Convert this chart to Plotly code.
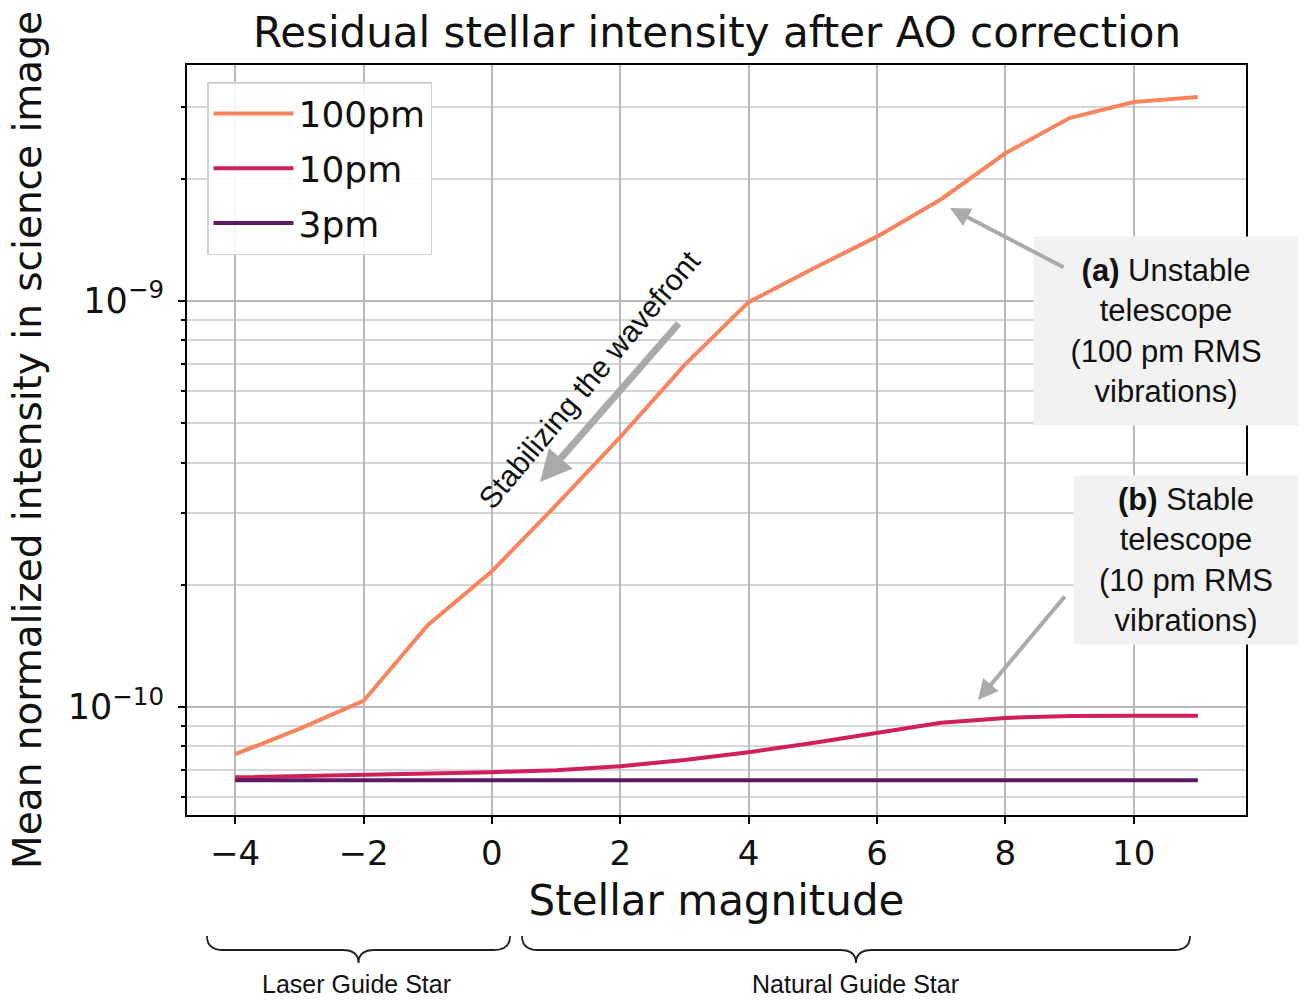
import plotly.graph_objects as go

magnitude = [-4, -3, -2, -1, 0, 1, 2, 3, 4, 5, 6, 7, 8, 9, 10, 11]
intensity_100pm = [7.65e-11, 8.83e-11, 1.035e-10, 1.59e-10, 2.16e-10, 3.14e-10, 4.62e-10, 6.95e-10,
                   9.93e-10, 1.20e-9, 1.44e-9, 1.78e-9, 2.31e-9, 2.82e-9, 3.09e-9, 3.18e-9]
intensity_10pm = [6.71e-11, 6.75e-11, 6.79e-11, 6.85e-11, 6.91e-11, 6.99e-11, 7.15e-11, 7.40e-11,
                  7.74e-11, 8.15e-11, 8.63e-11, 9.14e-11, 9.40e-11, 9.50e-11, 9.52e-11, 9.52e-11]
intensity_3pm = [6.6e-11] * 16
series_names = ["100pm", "10pm", "3pm"]
series_colors = ["#F7845C", "#D01F5B", "#5E1A60"]

x_ticks = [-4, -2, 0, 2, 4, 6, 8, 10]
y_major = [1e-10, 1e-9]
y_major_text = ["10<sup>−10</sup>", "10<sup>−9</sup>"]
y_minor = [6e-11, 7e-11, 8e-11, 9e-11, 2e-10, 3e-10, 4e-10, 5e-10, 6e-10, 7e-10, 8e-10, 9e-10, 2e-9, 3e-9]

W, H = 1308, 1000
L, R, T, B = 187, 62, 65, 185
XR = [-4.75, 11.75]
YR = [-10.266, -8.419]

def px_to_x(px):
    return XR[0] + (px - L) / (W - L - R) * (XR[1] - XR[0])

def py_to_logy(py):
    return YR[1] - (py - T) / (H - T - B) * (YR[1] - YR[0])

def py_to_paper(py):
    return (H - B - py) / (H - T - B)

def px_to_paper(px):
    return (px - L) / (W - L - R)

fig = go.Figure()
for name, vals, col in zip(series_names, [intensity_100pm, intensity_10pm, intensity_3pm], series_colors):
    fig.add_trace(go.Scatter(x=magnitude, y=vals, mode="lines", name=name, legendgroup=name,
                             line=dict(color=col, width=4)))

font_dv = "DejaVu Sans"
font_ar = "Liberation Sans, Arial"

fig.update_layout(
    width=W, height=H,
    margin=dict(l=L, r=R, t=T, b=B),
    paper_bgcolor="white", plot_bgcolor="white",
    title=dict(text="Residual stellar intensity after AO correction",
               font=dict(family=font_dv, size=42, color="#111"),
               x=px_to_paper(717), xref="paper", xanchor="center",
               y=1 - 32 / H, yref="container", yanchor="middle"),
    legend=dict(x=px_to_paper(207), y=py_to_paper(82), xanchor="left", yanchor="top",
                bgcolor="rgba(255,255,255,0.9)", bordercolor="#d0d0d0", borderwidth=1.5,
                itemwidth=80, traceorder="grouped", tracegroupgap=5,
                font=dict(family=font_dv, size=36, color="#111")),
    showlegend=True,
)

fig.update_xaxes(range=XR, tickvals=x_ticks, ticks="outside", ticklen=7, tickwidth=1.5,
                 tickcolor="black", showline=True, linecolor="black", linewidth=2, mirror=True,
                 showgrid=True, gridcolor="#b8b8b8", gridwidth=1.8, zeroline=False,
                 tickfont=dict(family=font_dv, size=34, color="#111"),
                 title=dict(text="Stellar magnitude", font=dict(family=font_dv, size=42, color="#111"),
                            standoff=14))
fig.update_yaxes(type="log", range=YR, tickvals=y_major, ticktext=y_major_text,
                 ticks="outside", ticklen=7, tickwidth=1.5, tickcolor="black",
                 showline=True, linecolor="black", linewidth=2, mirror=True,
                 showgrid=True, gridcolor="#b8b8b8", gridwidth=1.8, zeroline=False,
                 ticklabelstandoff=7,
                 tickfont=dict(family=font_dv, size=35, color="#111"),
                 minor=dict(tickvals=y_minor, ticks="outside", ticklen=4, tickcolor="black",
                            showgrid=True, gridcolor="#d6d6d6", gridwidth=1.8),
                 title=dict(text="Mean normalized intensity in science image",
                            font=dict(family=font_dv, size=39, color="#111"), standoff=14))

# Annotation boxes
fig.add_annotation(xref="paper", yref="paper", x=px_to_paper(1166), y=py_to_paper(331),
                   text="<b>(a)</b> Unstable<br>telescope<br>(100 pm RMS<br>vibrations)",
                   showarrow=False, align="center", bgcolor="#f2f2f2", borderpad=16, width=232,
                   font=dict(family=font_ar, size=31, color="#111"), xanchor="center", yanchor="middle")
fig.add_annotation(xref="paper", yref="paper", x=px_to_paper(1186), y=py_to_paper(560),
                   text="<b>(b)</b> Stable<br>telescope<br>(10 pm RMS<br>vibrations)",
                   showarrow=False, align="center", bgcolor="#f2f2f2", borderpad=6, width=212,
                   font=dict(family=font_ar, size=31, color="#111"), xanchor="center", yanchor="middle")

# Arrows
fig.add_annotation(x=px_to_x(950), y=py_to_logy(208), xref="x", yref="y", text="",
                   showarrow=True, ax=115, ay=60, arrowcolor="#aaaaaa", arrowwidth=4,
                   arrowhead=2, arrowsize=1.0)
fig.add_annotation(x=px_to_x(978), y=py_to_logy(700), xref="x", yref="y", text="",
                   showarrow=True, ax=88, ay=-105, arrowcolor="#aaaaaa", arrowwidth=4,
                   arrowhead=2, arrowsize=1.0)
fig.add_annotation(x=px_to_x(540), y=py_to_logy(482), xref="x", yref="y", text="",
                   showarrow=True, ax=140, ay=-160, arrowcolor="#aaaaaa", arrowwidth=7,
                   arrowhead=2, arrowsize=0.9)
fig.add_annotation(x=px_to_x(589), y=py_to_logy(379), xref="x", yref="y",
                   text="Stabilizing the wavefront", showarrow=False, textangle=-50,
                   font=dict(family=font_ar, size=30, color="#111"))

# Braces below the axis
def brace(px0, px1, ytop=936, ymid=950, ytip=963, r=16):
    xm = (px0 + px1) / 2
    yt, ym, yp = py_to_paper(ytop), py_to_paper(ymid), py_to_paper(ytip)
    X = px_to_paper
    return (f"M {X(px0)},{yt} Q {X(px0)},{ym} {X(px0 + r)},{ym} L {X(xm - r)},{ym} "
            f"Q {X(xm)},{ym} {X(xm)},{yp} Q {X(xm)},{ym} {X(xm + r)},{ym} "
            f"L {X(px1 - r)},{ym} Q {X(px1)},{ym} {X(px1)},{yt}")

for (a, b_) in [(207, 510), (522, 1190)]:
    fig.add_shape(type="path", path=brace(a, b_), xref="paper", yref="paper",
                  line=dict(color="#222", width=1.8))

fig.add_annotation(xref="paper", yref="paper", x=px_to_paper(356), y=py_to_paper(984),
                   xanchor="center", yanchor="middle",
                   text="Laser Guide Star", showarrow=False,
                   font=dict(family=font_ar, size=25, color="#111"))
fig.add_annotation(xref="paper", yref="paper", x=px_to_paper(855), y=py_to_paper(984),
                   xanchor="center", yanchor="middle",
                   text="Natural Guide Star", showarrow=False,
                   font=dict(family=font_ar, size=25, color="#111"))

fig.write_html("out.html")
